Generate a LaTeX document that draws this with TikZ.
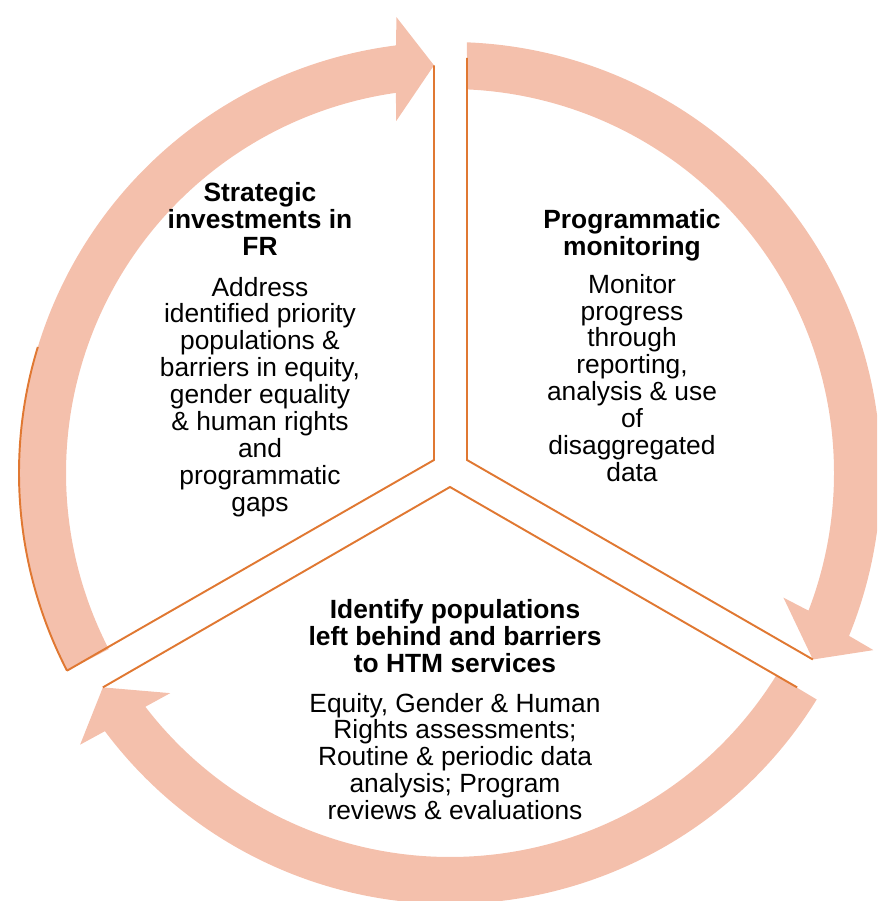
\documentclass[tikz,border=0pt]{standalone}
\usepackage{fontspec}
\setmainfont{Liberation Sans}
\usepackage{xcolor}
\usepackage{tikz}
\definecolor{bandfill}{HTML}{F4C0AC}
\definecolor{edgeorange}{HTML}{E07832}
\usetikzlibrary{calc}

\begin{document}
\begin{tikzpicture}[
    x=0.02cm, y=0.02cm,
    band/.style={fill=bandfill},
    edge/.style={draw=edgeorange, line width=1.1pt},
    txt/.style={align=center, inner sep=0pt, anchor=north, font=\fontsize{15pt}{15.3pt}\selectfont}
]
    \useasboundingbox (-450,-428) rectangle (427,473);
    \clip (-450,-428) rectangle (427,473);
    % circular arrows: start out/in, shaft end out/in, wing out, tip, wing in
    \foreach \so/\si/\eo/\ei/\wo/\tp/\wi in {207.3/207.3/97.2/98.1/96.7/92.25/98.7,
        87.74/87.46/-22.2/-21.0/-22.7/-27.2/-20.5,
        -31.7/-31.8/-143.2/-142.5/-143.7/-148.3/-141.8} {
        \fill[band] (\so:431) arc[start angle=\so, end angle=\eo, radius=431]
            -- (\wo:459) -- (\tp:408) -- (\wi:356) -- (\ei:384)
            arc[start angle=\ei, end angle=\si, radius=384] -- cycle;
    }
    % sector edges
    \coordinate (ltop) at (92.25:408);
    \coordinate (lmid) at (-16,13);
    \coordinate (llow) at (207.3:431);
    \coordinate (rtop) at (17,415);
    \coordinate (rmid) at (17,13);
    \coordinate (rlow) at (-27.2:408);
    \coordinate (bleft) at (-148.3:408);
    \coordinate (bmid) at (0,-14);
    \coordinate (bright) at (-31.7:408);
    \draw[edge] (ltop) -- (lmid) -- (llow);
    \draw[edge] (rtop) -- (rmid) -- (rlow);
    \draw[edge] (bleft) -- (bmid) -- (bright);
    \draw[edge] (llow) arc[start angle=207.3, end angle=163, radius=431];
    % texts
    \node[txt] (strategic) at (-190,291) {\textbf{Strategic}\\\textbf{investments in}\\\textbf{FR}\\[0.28cm]
        Address\\identified priority\\populations \&\\barriers in equity,\\gender equality\\\& human rights\\and\\programmatic\\gaps};
    \node[txt] (monitoring) at (182,264) {\textbf{Programmatic}\\\textbf{monitoring}\\[0.22cm]
        Monitor\\progress\\through\\reporting,\\analysis \& use\\of\\disaggregated\\data};
    \node[txt] (identify) at (5,-126) {\textbf{Identify populations}\\\textbf{left behind and barriers}\\\textbf{to HTM services}\\[0.26cm]
        Equity, Gender \& Human\\Rights assessments;\\Routine \& periodic data\\analysis; Program\\reviews \& evaluations};
\end{tikzpicture}
\end{document}
